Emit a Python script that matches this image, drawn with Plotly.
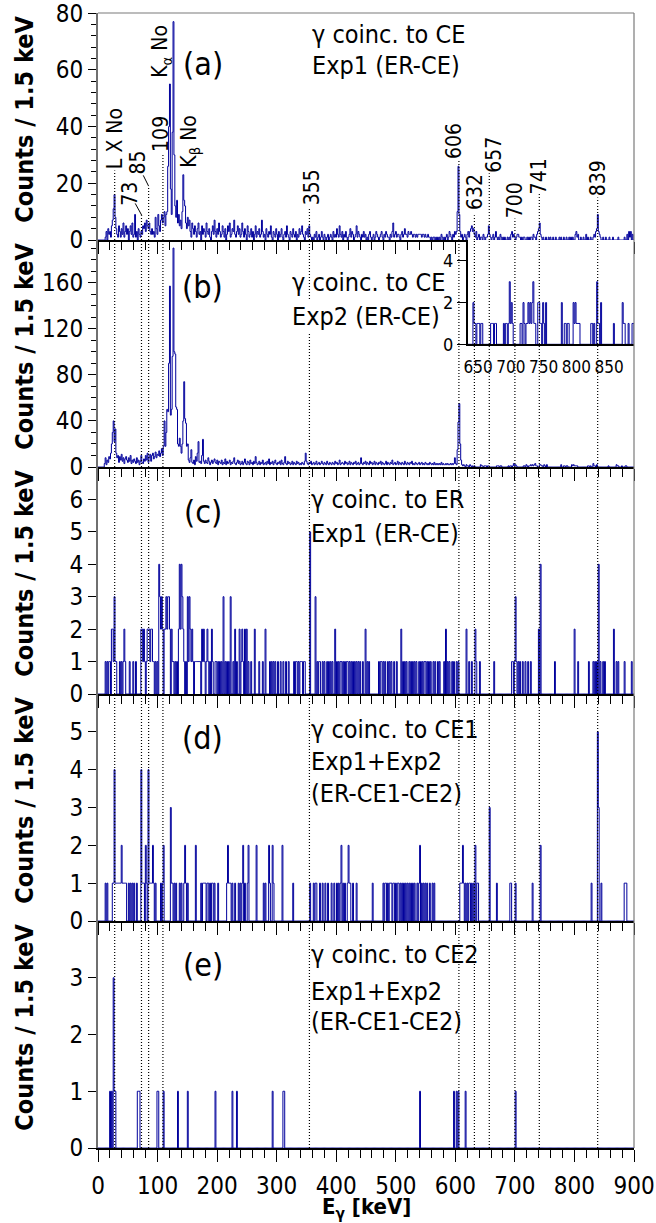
import numpy as np
import plotly.graph_objects as go

BIN_KEV = 1.5
N_BINS = 600

# ---- panel (a): gamma coinc. to CE, Exp1 ; counts per 1.5 keV bin (rows of 30 keV)
counts_a = [
    0,0,0,0,0,0,0,0,1,3,0,4,2,3,1,5,7,11,16,8,
    4,2,1,5,3,1,4,2,6,1,3,5,2,4,0,3,5,2,6,1,
    2,9,1,3,0,4,2,1,3,2,5,4,6,3,7,5,4,6,3,2,
    4,2,3,1,8,4,2,9,5,3,7,9,6,8,10,5,9,10,26,40,
    55,18,9,38,77,30,12,8,14,6,9,5,7,4,10,23,14,12,6,4,
    8,5,7,3,1,6,4,2,5,3,1,4,6,2,3,0,5,2,4,3,
    1,6,3,2,4,1,0,3,5,2,7,3,1,4,2,6,3,1,2,5,
    3,1,4,0,2,5,3,6,1,2,4,3,7,2,1,3,5,2,4,1,
    2,6,3,1,4,2,0,5,3,1,2,4,1,3,0,2,5,1,3,2,
    4,1,2,7,3,1,2,0,4,2,1,3,2,5,1,0,3,2,1,4,
    2,0,3,1,2,4,1,0,2,3,1,5,2,1,0,3,2,1,4,2,
    1,3,0,2,1,4,2,3,5,2,1,0,3,2,4,1,5,2,1,0,
    1,0,2,1,3,0,1,2,0,1,3,1,0,2,1,0,1,2,0,1,
    2,1,0,3,1,2,1,4,2,1,5,2,1,3,0,2,1,3,1,0,
    1,2,4,1,3,2,0,1,2,5,1,3,2,1,0,2,1,3,1,2,
    0,1,0,2,3,1,0,1,2,0,1,3,2,1,0,1,2,3,1,0,
    2,1,3,2,1,1,0,2,1,3,6,1,2,3,1,2,2,1,0,2,
    3,1,2,4,2,2,1,3,2,2,3,2,1,2,2,1,2,1,2,2,
    2,2,1,2,2,1,2,1,1,2,1,1,0,1,0,1,1,0,1,0,
    1,0,1,0,2,1,0,1,0,1,2,0,1,3,2,1,0,2,1,3,
    2,3,10,26,9,3,1,2,0,1,2,1,0,2,3,1,3,4,5,3,
    4,2,1,3,0,1,2,0,1,1,0,2,1,0,1,1,2,5,2,1,
    0,1,2,0,1,3,1,0,1,0,2,1,0,1,0,1,0,0,1,0,
    1,0,2,3,1,2,1,0,1,2,2,1,1,0,1,0,1,1,0,0,
    1,0,1,0,1,1,0,2,1,1,0,2,3,4,6,2,1,0,1,0,
    0,1,0,0,1,0,1,0,0,1,0,0,1,0,0,0,1,0,1,0,
    0,1,0,0,1,0,0,1,0,1,0,1,0,0,2,3,1,2,0,0,
    1,0,0,1,0,0,2,0,1,0,0,1,0,0,1,2,1,3,4,9,
    3,2,1,0,0,1,0,0,1,0,0,0,1,0,0,0,1,0,0,0,
    0,0,1,0,0,0,0,0,0,1,0,0,2,0,3,1,3,0,2,0,
]

# ---- panel (b): gamma coinc. to CE, Exp2
counts_b = [
    0,0,0,0,0,0,0,3,8,2,6,4,9,7,12,20,30,40,22,33,
    12,8,10,4,9,6,11,5,8,3,7,9,6,4,8,5,10,3,6,4,
    7,5,3,8,4,6,2,5,10,4,3,7,5,10,6,12,4,8,11,5,
    10,12,7,9,13,8,11,10,14,9,12,16,10,18,40,18,30,50,48,90,
    157,45,50,96,190,100,98,52,50,20,18,25,18,12,20,40,74,42,38,18,
    20,6,4,8,15,4,3,6,2,9,5,12,22,4,5,3,10,24,5,3,
    6,4,3,8,5,2,4,6,3,5,7,4,3,6,2,5,4,3,6,2,
    4,3,7,2,5,3,4,6,2,4,3,5,8,3,2,4,6,3,5,2,
    3,5,2,4,7,3,2,5,4,2,6,3,4,2,5,3,9,4,2,3,
    5,2,4,3,6,2,3,4,2,5,3,7,2,4,3,5,2,4,6,3,
    2,4,3,5,2,6,3,2,4,9,3,2,5,3,4,2,3,5,2,4,
    3,2,5,3,4,2,3,2,4,3,2,5,12,5,3,2,4,3,5,2,
    3,4,2,3,5,2,3,4,2,3,5,3,2,4,3,2,5,3,2,4,
    3,2,4,3,2,5,3,4,2,3,6,2,3,4,3,2,5,3,4,2,
    3,5,2,4,3,2,4,3,5,2,3,4,2,3,8,3,2,4,3,5,
    2,4,3,2,5,3,4,2,3,5,2,4,3,2,4,3,5,2,4,3,
    2,3,5,2,4,3,2,4,3,6,2,3,4,2,3,5,2,4,3,2,
    4,3,2,5,3,2,4,3,2,4,3,5,2,3,2,4,3,2,3,4,
    2,3,4,2,3,2,4,3,2,3,2,4,3,2,3,2,4,2,3,2,
    3,2,3,2,4,2,3,2,2,3,2,3,2,2,3,2,3,2,3,8,
    3,2,15,39,55,20,6,2,1,2,1,0,2,1,1,0,2,1,0,1,
    0,1,0,0,0,0,0,0,2,1,1,0,1,1,1,0,1,1,0,0,
    0,0,0,0,0,0,1,1,1,0,1,1,0,0,0,0,0,0,0,1,
    0,1,1,0,1,3,1,2,1,0,0,0,0,0,0,0,1,1,0,2,
    1,0,1,1,2,1,2,1,2,3,1,1,0,0,2,2,1,1,0,2,
    1,0,2,0,0,0,0,0,0,0,0,0,0,0,0,0,0,0,2,0,
    0,1,1,0,1,1,0,0,0,0,2,1,2,1,1,1,1,0,0,0,
    0,0,0,0,0,0,0,0,1,1,0,1,0,0,3,1,1,0,2,0,
    0,0,0,0,0,0,0,0,0,0,0,1,0,0,0,0,0,0,0,0,
    2,1,1,0,0,0,1,0,0,0,1,1,0,0,0,0,0,0,0,0,
]

# ---- panel (c): gamma coinc. to ER, Exp1 ; energies (keV) of bins holding 1, 2, 3, 4, 5 counts
c_ones = [12,15,18,19.5,25.5,28.5,30,36,39,42,45,52.5,58.5,63,75,78,81,87,91.5,93,96,99,124.5,126,129,
          132,144,147,151.5,156,159,162,163.5,165,166.5,168,169.5,171,175.5,178.5,181.5,184.5,187.5,192,
          196.5,198,201,204,207,213,216,219,226.5,232.5,240,243,252,256.5,270,276,288,291,294,297,301.5,
          306,310.5,315,319.5,328.5,331.5,333,336,339,340.5,342,345,346.5,367.5,370.5,372,376.5,379.5,384,
          387,390,393,400.5,403.5,406.5,408,411,414,417,418.5,421.5,424.5,427.5,430.5,433.5,436.5,439.5,
          444,451.5,454.5,471,474,475.5,478.5,481.5,486,489,492,496.5,501,511.5,514.5,517.5,522,525,528,
          531,534,538.5,541.5,544.5,547.5,549,552,555,558,562.5,565.5,570,573,580.5,586.5,589.5,594,597,
          601.5,604.5,622.5,627,634.5,640.5,664.5,694.5,696,699,702,705,708,712.5,717,721.5,726,766.5,
          805.5,823.5,831,834,837,843,847.5,850.5,870,873,883.5,895.5]
c_twos = [22.5,24,43.5,72,73.5,76.5,82.5,84,85.5,88.5,90,105,108,111,112.5,115.5,120,123,135,138,142.5,
          154.5,157.5,174,177,183,190.5,229.5,237,241.5,246,249,262.5,280.5,397.5,448.5,508.5,583.5,618,
          633,739.5,799.5,865.5]
c_threes = [27,103.5,106.5,114,117,118.5,141,150,153,210,222,364.5,700.5]
c_fours = [102,136.5,139.5,742.5,840]
c_fives = [355.5]

# ---- panel (d): gamma coinc. to CE1, Exp1+Exp2
d_ones = [12,15,24,25.5,28.5,30,31.5,33,34.5,36,37.5,40.5,42,43.5,45,46.5,51,54,57,60,64.5,73.5,75,76.5,
          81,85.5,87,88.5,90,93,96,105,108,123,124.5,127.5,130.5,136.5,139.5,144,147,150,172.5,175.5,177,
          178.5,180,183,184.5,187.5,190.5,192,195,201,216,219,220.5,222,225,229.5,235.5,238.5,241.5,246,
          250.5,277.5,280.5,288,294,327,355.5,361.5,364.5,366,372,376.5,381,385.5,391.5,396,400.5,403.5,
          406.5,411,414,418.5,421.5,423,427.5,433.5,460.5,478.5,481.5,483,486,489,490.5,492,495,496.5,
          499.5,502.5,504,507,510,513,516,519,522,525,528,531,535.5,538.5,543,546,549,552,556.5,561,564,
          607.5,609,610.5,613.5,616.5,619.5,622.5,624,627,630,636,637.5,669,691.5,693,700.5,729,828,
          844.5,883.5,885,886.5]
d_twos = [39,79.5,91.5,109.5,145.5,163.5,217.5,243,252,265.5,286.5,292.5,309,408,420,540,612,633,742.5]
d_threes = [121.5,657,840]
d_fours = [27,72,84]
d_fives = [838.5]

# ---- panel (e): gamma coinc. to CE2, Exp1+Exp2
e_ones = [19.5,22.5,27,28.5,66,67.5,69,99,100.5,109.5,133.5,150,196.5,225,232.5,292.5,310.5,312,540,
          597,601.5,604.5,616.5,700.5]
e_threes = [25.5]

# ---- transitions marked with dotted lines (keV)
line_energies = [28, 73, 85, 109, 355, 606, 632, 657, 700, 741, 839]
line_tops_a = [24.5, 8.7, 19, 30, 11.4, 28, 8.7, 23.5, 7.6, 16.4, 15]

label_texts = ["L X No", "73", "85", "109", "K<sub>α</sub> No", "K<sub>β</sub> No",
               "355", "606", "632", "657", "700", "741", "839"]
label_x = [27.5, 54, 67.5, 104.5, 106, 155, 360, 599, 633, 666, 700, 742, 840]
label_y = [35.7, 16.4, 27.4, 37.5, 66.4, 34.8, 18.7, 34.8, 16.9, 29.9, 14.0, 22.4, 21.9]

panel_letters = ["(a)", "(b)", "(c)", "(d)", "(e)"]
panel_texts = [
    ["γ coinc. to CE", "Exp1 (ER-CE)"],
    ["γ coinc. to CE", "Exp2 (ER-CE)"],
    ["γ coinc. to ER", "Exp1 (ER-CE)"],
    ["γ coinc. to CE1", "Exp1+Exp2", "(ER-CE1-CE2)"],
    ["γ coinc. to CE2", "Exp1+Exp2", "(ER-CE1-CE2)"],
]
y_ranges = [[0, 80.05], [0, 197], [0, 7], [0, 6], [0, 4]]
y_ticks = [[0, 20, 40, 60, 80], [0, 40, 80, 120, 160], [0, 1, 2, 3, 4, 5, 6], [0, 1, 2, 3, 4, 5], [0, 1, 2, 3]]
y_minor = [4, 10, None, None, None]
inset_range = [634, 888]
inset_ticks = [650, 700, 750, 800, 850]

# ------------------------------------------------------------------
FONT = "DejaVu Sans Condensed, DejaVu Sans, sans-serif"
BLUE = "#00009c"
W, H = 656, 1223
ML, MR, MT, MB = 98, 22, 13, 75
PW, PH = W - ML - MR, H - MT - MB


def sparse_hist(groups):
    h = np.zeros(N_BINS)
    for n, energies in groups:
        idx = np.rint(np.asarray(energies, float) / BIN_KEV).astype(int)
        h[idx] = n
    return h


hists = [np.asarray(counts_a, float), np.asarray(counts_b, float),
         sparse_hist([(1, c_ones), (2, c_twos), (3, c_threes), (4, c_fours), (5, c_fives)]),
         sparse_hist([(1, d_ones), (2, d_twos), (3, d_threes), (4, d_fours), (5, d_fives)]),
         sparse_hist([(1, e_ones), (3, e_threes)])]
edges = np.arange(N_BINS + 1) * BIN_KEV

fig = go.Figure()
for k, h in enumerate(hists):
    sfx = "" if k == 0 else str(k + 1)
    fig.add_trace(go.Scatter(x=edges, y=np.append(h, h[-1]), mode="lines", line_shape="hv",
                             line=dict(color=BLUE, width=1.0), xaxis="x" + sfx, yaxis="y" + sfx,
                             showlegend=False, hoverinfo="skip"))
fig.add_trace(go.Scatter(x=edges, y=np.append(hists[1], hists[1][-1]), mode="lines", line_shape="hv",
                         line=dict(color=BLUE, width=1), xaxis="x6", yaxis="y6",
                         showlegend=False, hoverinfo="skip"))


def px2py(py):
    return (MT + PH - py) / PH


def px2px(px):
    return (px - ML) / PW


lay = dict(width=W, height=H, margin=dict(l=ML, r=MR, t=MT, b=MB, autoexpand=False),
           plot_bgcolor="white", paper_bgcolor="white",
           font=dict(family=FONT, size=24, color="black"))
for k in range(5):
    sfx = "" if k == 0 else str(k + 1)
    dom = [1 - (k + 1) / 5, 1 - k / 5]
    xa = dict(domain=[0, 1], anchor="y" + sfx, range=[0, 900], dtick=100, tick0=0,
              ticks="outside", ticklen=12, tickwidth=1.2, tickcolor="black",
              showticklabels=(k == 4), showline=True, linecolor="black", linewidth=2,
              showgrid=False, zeroline=False, automargin=False,
              minor=dict(dtick=20, tick0=0, ticks="outside", ticklen=8, tickwidth=1,
                         tickcolor="black"),
              tickfont=dict(size=24))
    if k == 4:
        xa["ticklabelstandoff"] = 3
    lay["xaxis" + sfx] = xa
    ya = dict(domain=dom, anchor="x" + sfx, range=y_ranges[k], tickvals=y_ticks[k],
              ticks="outside", ticklen=8, tickwidth=1.2, tickcolor="black",
              showline=True, linecolor="#6f6f6f", linewidth=2, showgrid=False, zeroline=False,
              tickfont=dict(size=24), ticklabeloverflow="allow", automargin=False)
    if y_minor[k]:
        ya["minor"] = dict(dtick=y_minor[k], tick0=0, ticks="outside", ticklen=5, tickwidth=1,
                           tickcolor="black")
    lay["yaxis" + sfx] = ya

inset_y0 = px2py(344.3)
lay["xaxis6"] = dict(domain=[px2px(467.7), 1], anchor="y6", range=inset_range, tickvals=inset_ticks,
                     ticks="", showline=True, linecolor="black", linewidth=1.5, showgrid=False,
                     zeroline=False, tickfont=dict(size=17), tickangle=0, ticklabelstandoff=7,
                     automargin=False)
lay["yaxis6"] = dict(domain=[inset_y0, 0.8], anchor="x6", range=[0, 5], tickvals=[0, 2, 4],
                     ticks="outside", ticklen=9, tickcolor="black", showline=True, linecolor="black",
                     linewidth=1.5, showgrid=False, zeroline=False, tickfont=dict(size=18),
                     automargin=False)
fig.update_layout(**lay)

shapes = []
dot = dict(color="black", width=1.2, dash="1px,2px")
for k in range(5):
    sfx = "" if k == 0 else str(k + 1)
    for j, e in enumerate(line_energies):
        if k == 0:
            shapes.append(dict(type="line", xref="x", yref="y", x0=e, x1=e, y0=0, y1=line_tops_a[j],
                               line=dot, layer="above"))
        else:
            shapes.append(dict(type="line", xref="x" + sfx, yref="y" + sfx + " domain", x0=e, x1=e,
                               y0=0, y1=1, line=dot, layer="above"))
shapes.append(dict(type="line", xref="x", yref="y", x0=73.5, y0=8.7, x1=62.5, y1=12.9,
                   line=dict(color="black", width=1)))
shapes.append(dict(type="line", xref="x", yref="y", x0=85, y0=19, x1=76, y1=22.8,
                   line=dict(color="black", width=1)))
shapes.append(dict(type="line", xref="paper", yref="paper", x0=0, x1=1, y0=1, y1=1,
                   line=dict(color="#7a7a7a", width=1.2)))
shapes.append(dict(type="line", xref="paper", yref="paper", x0=1, x1=1, y0=0, y1=1,
                   line=dict(color="#7a7a7a", width=1.2)))
fig.update_layout(shapes=shapes)

ann = []
for t, xv, yv in zip(label_texts, label_x, label_y):
    ann.append(dict(text=t, x=xv, y=yv, xref="x", yref="y", showarrow=False, textangle=-90,
                    xanchor="center", yanchor="middle", font=dict(size=21)))

letter_y = [64, 287.5, 512, 738, 965]
text_x = [310, 290, 309, 309, 309]
text_y = [[35, 66], [282, 316.5], [500, 533.5], [729, 761.7, 793.5], [954, 991, 1021]]
for k in range(5):
    ann.append(dict(text=panel_letters[k], x=px2px(202.5), y=px2py(letter_y[k]), xref="paper",
                    yref="paper", showarrow=False, xanchor="center", yanchor="middle",
                    font=dict(size=32)))
    for t, yy in zip(panel_texts[k], text_y[k]):
        a = dict(text=t, x=px2px(text_x[k]), y=px2py(yy), xref="paper", yref="paper",
                 showarrow=False, xanchor="left", yanchor="middle", font=dict(size=25))
        if k == 1 and t.startswith("Exp"):
            a["bgcolor"] = "white"
        ann.append(a)
    sfx = "" if k == 0 else str(k + 1)
    ann.append(dict(text="<b>Counts / 1.5 keV</b>", x=px2px(25), y=0.53, xref="paper",
                    yref="y" + sfx + " domain", showarrow=False, textangle=-90,
                    xanchor="center", yanchor="middle", font=dict(size=25)))
ann.append(dict(text="<b>E<sub>γ</sub> [keV]</b>", x=0.5, y=px2py(1208), xref="paper", yref="paper",
                showarrow=False, xanchor="center", yanchor="middle", font=dict(size=22)))
fig.update_layout(annotations=ann)

fig.write_html("out.html", config={"displayModeBar": False},
               post_script="document.body.style.margin='0px';document.body.style.overflow='hidden';")
